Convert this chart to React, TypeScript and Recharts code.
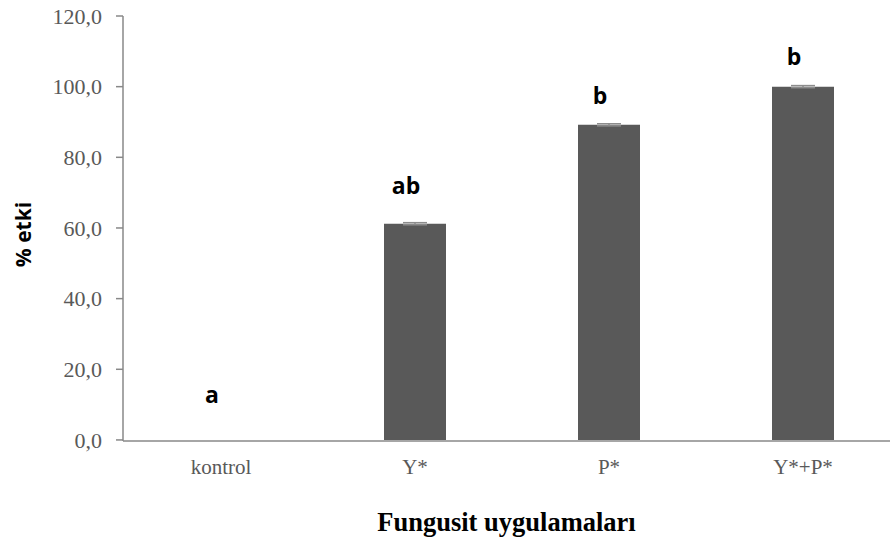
import React from 'react';
import { ComposedChart, Bar, XAxis, YAxis, ErrorBar, Scatter } from 'recharts';

const categories = ['kontrol', 'Y*', 'P*', 'Y*+P*'];
const values = [0, 61.2, 89.2, 100.0];
const errors = [0.3, 0.3, 0.3, 0.3];
const letters = ['a', 'ab', 'b', 'b'];
const letterHeights = [10.4, 69.5, 95.2, 106.2];
const yTicks = [0, 20, 40, 60, 80, 100, 120];

const data = categories.map((c, i) => ({
  name: c,
  value: values[i],
  err: errors[i],
  letter: letters[i],
  letterY: letterHeights[i],
}));

const fmt = (v: number) => v.toFixed(1).replace('.', ',');

const LetterShape = (props: any) => {
  const { cx, cy, payload } = props;
  return (
    <text
      x={cx - 9}
      y={cy}
      textAnchor="middle"
      fontFamily="'Open Sans', sans-serif"
      fontWeight={700}
      fontSize={23}
      fill="#000"
    >
      {payload.letter}
    </text>
  );
};

export default function App() {
  return (
    <div style={{ position: 'absolute', left: 0, top: 0, width: 891, height: 548, background: '#fff' }}>
      <ComposedChart
        width={891}
        height={548}
        data={data}
        margin={{ top: 16, right: 1, bottom: 0, left: 0 }}
      >
        <XAxis
          dataKey="name"
          height={107}
          padding={{ left: 1, right: -10 }}
          tickLine={false}
          tickSize={0}
          tickMargin={18}
          axisLine={{ stroke: '#888888', strokeWidth: 1.5 }}
          tick={{ fill: '#595959', fontSize: 21, fontFamily: "'Liberation Serif', serif" }}
          interval={0}
          label={{
            content: ({ viewBox }: any) => (
              <text
                x={viewBox.x + viewBox.width / 2}
                y={viewBox.y + 90}
                textAnchor="middle"
                fontFamily="'Liberation Serif', serif"
                fontWeight={700}
                fontSize={26.5}
                fill="#000"
              >
                Fungusit uygulamaları
              </text>
            ),
          }}
        />
        <YAxis
          width={123}
          domain={[0, 120]}
          ticks={yTicks}
          tickFormatter={fmt}
          tickSize={7}
          tickMargin={14}
          axisLine={{ stroke: '#888888', strokeWidth: 1.5 }}
          tickLine={{ stroke: '#888888', strokeWidth: 1.5 }}
          tick={{ fill: '#595959', fontSize: 22, fontFamily: "'Liberation Serif', serif" }}
          label={{
            content: ({ viewBox }: any) => {
              const x = 31;
              const y = viewBox.y + viewBox.height / 2 + 6;
              return (
                <text
                  x={x}
                  y={y}
                  transform={`rotate(-90, ${x}, ${y})`}
                  textAnchor="middle"
                  fontFamily="'Open Sans', sans-serif"
                  fontWeight={700}
                  fontSize={21}
                  fill="#000"
                >
                  % etki
                </text>
              );
            },
          }}
        />
        <Bar dataKey="value" fill="#595959" barSize={62} isAnimationActive={false}>
          <ErrorBar dataKey="err" width={12} stroke="#8c8c8c" strokeWidth={1.5} direction="y" />
        </Bar>
        <Scatter dataKey="letterY" shape={LetterShape} isAnimationActive={false} />
      </ComposedChart>
    </div>
  );
}
